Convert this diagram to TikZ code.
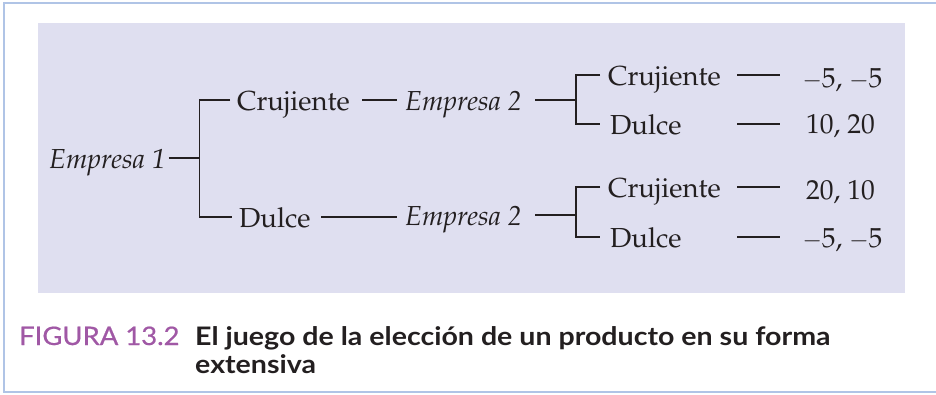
\documentclass[tikz,border=0pt]{standalone}
\usepackage[T1]{fontenc}
\usepackage{fontspec}
\usepackage{graphicx}
\newfontfamily\capfont{Lato}
\newfontfamily\figfont[FakeBold=0.6]{Lato}
\newcommand\palfont{\fontencoding{T1}\fontfamily{ppl}\selectfont}
\definecolor{frameblue}{RGB}{176,196,230}
\definecolor{lavender}{RGB}{223,223,240}
\definecolor{figpurple}{RGB}{160,88,165}
\definecolor{ink}{RGB}{35,31,32}
\begin{document}
\begin{tikzpicture}[x=1pt,y=-1pt,
  tree/.style={line width=1.2pt, draw=ink},
  lbl/.style={inner sep=0pt, anchor=base west, text height=20pt, text depth=0pt,
    font=\palfont\fontsize{27.5}{30}\selectfont, text=ink},
  pay/.style={lbl, anchor=base},
  capfig/.style={inner sep=0pt, anchor=base west, text=figpurple,
    font=\figfont\fontsize{25.5}{27}\selectfont},
  captxt/.style={inner sep=0pt, anchor=base west, text=ink,
    font=\capfont\bfseries\fontsize{25.5}{27}\selectfont}]
\useasboundingbox (0,0) rectangle (936,394);
% frame and panel
\fill[lavender] (38,23) rectangle (905,293);
\draw[frameblue, line width=2pt] (936,2.5) -- (3.5,2.5) -- (3.5,391.5) -- (936,391.5);
% nodes
\node[lbl] (e1) at (49,168) {\itshape Empresa 1};
\node[lbl] (c1) at (237,110) {Crujiente};
\node[lbl] (d1) at (239,227) {Dulce};
\node[lbl] (e2a) at (405,110) {\itshape Empresa 2};
\node[lbl] (e2b) at (405,225) {\itshape Empresa 2};
\node[lbl] (c2a) at (608,85) {Crujiente};
\node[lbl] (d2a) at (610,134) {Dulce};
\node[lbl] (c2b) at (608,197) {Crujiente};
\node[lbl] (d2b) at (610,247) {Dulce};
\node[pay] (pa) at (842.5,87) {$-$5, $-$5};
\node[pay] (pb) at (840.5,133) {10, 20};
\node[pay] (pc) at (840.5,199) {20, 10};
\node[pay] (pd) at (842.5,247) {$-$5, $-$5};
% branch coordinates
\coordinate (b1) at (199.5,159);
\coordinate (b2) at (576,101);
\coordinate (b3) at (576,215);
\coordinate (l1) at (737,0);
\coordinate (l2) at (780,0);
\coordinate (m1) at (362,0);
\coordinate (m2) at (321,0);
\coordinate (m3) at (397,0);
\coordinate (n1) at (535,0);
% connectors
\draw[tree] ([xshift=3pt]e1.east) -- (e1.east -| b1);
\draw[tree] ([xshift=-7pt]c1.west) -| (b1) |- ([xshift=-7pt]d1.west);
\draw[tree] (c1.east -| m1) -- (c1.east -| m3);
\draw[tree] (d1.east -| m2) -- (d1.east -| m3);
\draw[tree] (e2a.east -| n1) -- (e2a.east -| b2);
\draw[tree] (e2b.east -| n1) -- (e2b.east -| b3);
\draw[tree] ([xshift=-8pt]c2a.west) -| (b2) |- ([xshift=-10pt]d2a.west);
\draw[tree] ([xshift=-8pt]c2b.west) -| (b3) |- ([xshift=-10pt]d2b.west);
\draw[tree] (c2a.east -| l1) -- (c2a.east -| l2);
\draw[tree] (d2a.east -| l1) -- (d2a.east -| l2);
\draw[tree] (c2b.east -| l1) -- (c2b.east -| l2);
\draw[tree] (d2b.east -| l1) -- (d2b.east -| l2);
% caption
\node[capfig] (fig) at (19,345) {\scalebox{1.075}[1]{FIGURA 13.2}};
\node[captxt] (cap1) at (195,345) {\scalebox{1.12}[1]{El juego de la elección de un producto en su forma}};
\node[captxt] (cap2) at (195,373) {\scalebox{1.12}[1]{extensiva}};
\end{tikzpicture}
\end{document}
